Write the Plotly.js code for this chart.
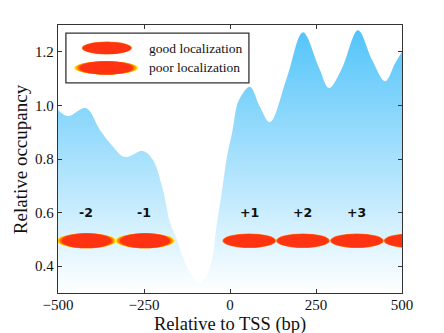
<!DOCTYPE html>
<html>
<head>
<meta charset="utf-8">
<script src="https://cdn.plot.ly/plotly-3.0.1.min.js"></script>
<style>html,body{margin:0;padding:0;background:#fff;}#chart{width:444px;height:333px;}</style>
</head>
<body>
<div id="chart"></div>
<script>
// Occupancy profile (position relative to TSS in bp, relative occupancy)
const profileX = [-500, -471, -419, -378, -349, -305, -253, -224, -195, -174, -154, -137, -108, -87, -58, -38, -23, -9, 6, 26, 58, 87, 116, 166, 212, 259, 288, 326, 372, 413, 451, 480, 500];
const profileY = [0.983, 0.96, 0.99, 0.908, 0.86, 0.807, 0.83, 0.796, 0.684, 0.561, 0.498, 0.434, 0.36, 0.337, 0.397, 0.561, 0.684, 0.807, 0.897, 1.02, 1.07, 0.995, 0.937, 1.106, 1.273, 1.14, 1.065, 1.14, 1.28, 1.17, 1.09, 1.157, 1.2];

// Nucleosomes
const goodCenters = [56, 212, 369, 525];
const poorCenters = [-417, -247];
const nucY = 0.495;
const labelText = ['-2', '-1', '+1', '+2', '+3'];
const labelX = [-419, -250, 56, 212, 369];
const labelY = [0.6, 0.6, 0.6, 0.6, 0.6];

const legendTexts = ['good localization', 'poor localization'];
const xTitle = 'Relative to TSS (bp)';
const yTitle = 'Relative occupancy';

const RED = '#ff3311';
const SERIF = 'Liberation Serif, Times New Roman, serif';

const shapes = [];
function ellipse(xref, yref, cx, cy, hw, hh, color) {
  shapes.push({type: 'circle', xref: xref, yref: yref, x0: cx - hw, x1: cx + hw, y0: cy - hh, y1: cy + hh,
    fillcolor: color, line: {width: 0}, layer: 'above'});
}
function poor(xref, yref, cx, cy, hw, hh) {
  ellipse(xref, yref, cx, cy, hw, hh * 0.9, '#fff07a');
  ellipse(xref, yref, cx, cy, hw * 0.97, hh * 0.95, '#ffd400');
  ellipse(xref, yref, cx, cy, hw * 0.93, hh * 0.97, '#ffa000');
  ellipse(xref, yref, cx, cy, hw * 0.88, hh * 0.97, '#ff6a08');
  ellipse(xref, yref, cx, cy, hw * 0.83, hh * 0.95, RED);
}
function good(xref, yref, cx, cy, hw, hh) {
  ellipse(xref, yref, cx, cy, hw, hh, '#ff7a10');
  ellipse(xref, yref, cx, cy, hw * 0.97, hh * 0.94, RED);
}
goodCenters.forEach(c => good('x', 'y', c, nucY, 78, 0.027));
poorCenters.forEach(c => poor('x', 'y', c, nucY, 88, 0.029));

// legend box
shapes.push({type: 'rect', xref: 'paper', yref: 'paper', x0: 0.023, x1: 0.555, y0: 0.784, y1: 0.970,
  line: {color: '#333', width: 1.3}, fillcolor: 'rgba(255,255,255,1)', layer: 'above'});
good('paper', 'paper', 0.142, 0.914, 0.073, 0.024);
poor('paper', 'paper', 0.140, 0.840, 0.094, 0.026);

const annotations = labelText.map((t, i) => ({
  x: labelX[i], y: labelY[i], xref: 'x', yref: 'y', text: '<b>' + t + '</b>', showarrow: false,
  font: {family: 'DejaVu Sans, Arial, sans-serif', size: 12.5, color: '#111'}
}));
legendTexts.forEach((t, i) => annotations.push({
  xref: 'paper', yref: 'paper', x: 0.258, y: [0.914, 0.840][i], xanchor: 'left', yanchor: 'middle',
  text: t, showarrow: false, font: {family: SERIF, size: 13.5, color: '#111'}
}));
annotations.push({xref: 'paper', yref: 'paper', x: 0.5, y: -0.118, xanchor: 'center', yanchor: 'middle',
  text: xTitle, showarrow: false, font: {family: SERIF, size: 18.5, color: '#111'}});
annotations.push({xref: 'paper', yref: 'paper', x: -0.11, y: 0.5, xanchor: 'center', yanchor: 'middle', textangle: -90,
  text: yTitle, showarrow: false, font: {family: SERIF, size: 19, color: '#111'}});

const trace = {
  x: profileX, y: profileY, type: 'scatter', mode: 'lines',
  line: {shape: 'spline', smoothing: 1, width: 0, color: '#5ac8fa'},
  fill: 'tozeroy',
  fillgradient: {type: 'vertical', start: 0.3, stop: 1.3, colorscale: [[0, '#ffffff'], [1, '#50c3fa']]},
  hoverinfo: 'skip', showlegend: false
};

const axisCommon = {
  showline: true, linecolor: '#333', linewidth: 1.3, mirror: 'ticks',
  ticks: 'inside', ticklen: 4, tickcolor: '#333', showgrid: false, zeroline: false,
  tickfont: {family: SERIF, size: 15, color: '#111'}
};

const layout = {
  width: 444, height: 333,
  margin: {l: 58, r: 42, t: 25, b: 40},
  paper_bgcolor: '#fff', plot_bgcolor: '#fff',
  showlegend: false,
  xaxis: Object.assign({}, axisCommon, {
    range: [-500, 500], tickvals: [-500, -250, 0, 250, 500], ticklabelstandoff: -2
  }),
  yaxis: Object.assign({}, axisCommon, {
    range: [0.3, 1.3], tickvals: [0.4, 0.6, 0.8, 1.0, 1.2], ticktext: ['0.4', '0.6', '0.8', '1.0', '1.2']
  }),
  shapes: shapes,
  annotations: annotations
};

Plotly.newPlot('chart', [trace], layout, {displayModeBar: false, staticPlot: true});
</script>
</body>
</html>
